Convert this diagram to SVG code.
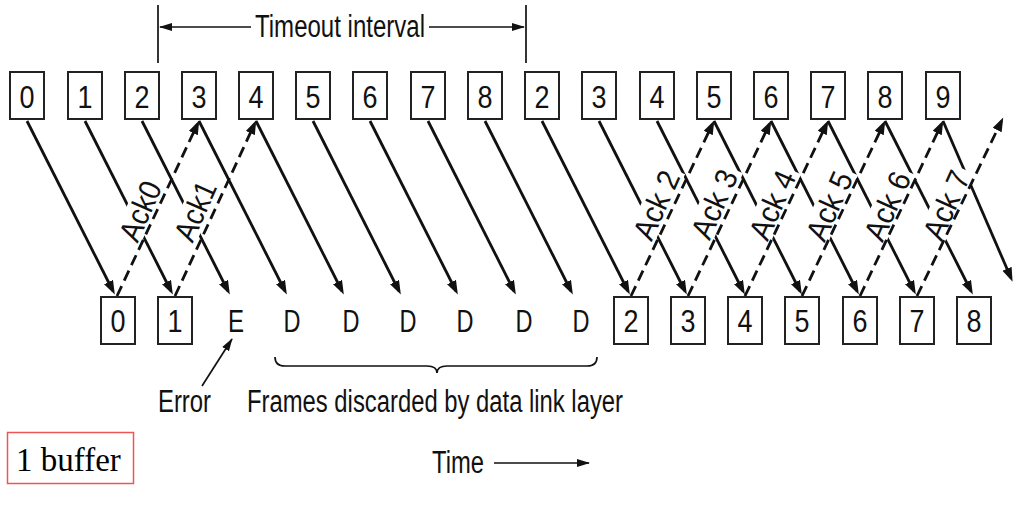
<svg xmlns="http://www.w3.org/2000/svg" width="1023" height="515" viewBox="0 0 1023 515">
<style>
.bx{fill:#fff;stroke:#222;stroke-width:2}
.t{font-family:"Liberation Sans",Arial,sans-serif;font-size:32px;fill:#111;text-anchor:middle}
.lb{font-family:"Liberation Sans",Arial,sans-serif;font-size:31px;fill:#111;text-anchor:middle}
.tx{font-family:"Liberation Sans",Arial,sans-serif;font-size:31px;fill:#111}
.f{stroke:#111;stroke-width:2.8;fill:none;marker-end:url(#ah)}
.a{stroke:#111;stroke-width:2.8;fill:none;stroke-dasharray:11 6;marker-end:url(#ah)}
.thin{stroke:#111;stroke-width:1.7;fill:none}
.bg{fill:#fff}
</style>
<defs>
<marker id="ah" markerUnits="userSpaceOnUse" markerWidth="15" markerHeight="11" refX="10" refY="5" orient="auto">
<path d="M0,0 L14,5 L0,10 z" fill="#111"/>
</marker>
<marker id="sh" markerUnits="userSpaceOnUse" markerWidth="14" markerHeight="9" refX="12" refY="4" orient="auto">
<path d="M0,0 L13,4 L0,8 z" fill="#111"/>
</marker>
</defs>
<rect width="1023" height="515" fill="#fff"/>

<!-- timeout interval -->
<g id="timeout">
<line class="thin" x1="158" y1="5" x2="158" y2="63"/>
<line class="thin" x1="526" y1="5" x2="526" y2="63"/>
<line class="thin" x1="251" y1="27" x2="160" y2="27" marker-end="url(#sh)"/>
<line class="thin" x1="429" y1="27" x2="524" y2="27" marker-end="url(#sh)"/>
<text class="tx" x="255" y="37" font-size="32" textLength="170" lengthAdjust="spacingAndGlyphs">Timeout interval</text>
</g>

<!-- connectors -->
<g id="connectors">
<g id="frames">
<line class="f" x1="27" y1="121" x2="113" y2="291"/>
<line class="f" x1="85" y1="121" x2="171" y2="291"/>
<line class="f" x1="142" y1="121" x2="228" y2="291"/>
<line class="f" x1="199" y1="121" x2="285" y2="291"/>
<line class="f" x1="256" y1="121" x2="342" y2="291"/>
<line class="f" x1="313" y1="121" x2="399" y2="291"/>
<line class="f" x1="370" y1="121" x2="456" y2="291"/>
<line class="f" x1="428" y1="121" x2="514" y2="291"/>
<line class="f" x1="485" y1="121" x2="571" y2="291"/>
<line class="f" x1="542" y1="121" x2="628" y2="291"/>
<line class="f" x1="599" y1="121" x2="685" y2="291"/>
<line class="f" x1="657" y1="121" x2="743" y2="291"/>
<line class="f" x1="714" y1="121" x2="800" y2="291"/>
<line class="f" x1="771" y1="121" x2="857" y2="291"/>
<line class="f" x1="828" y1="121" x2="914" y2="291"/>
<line class="f" x1="885" y1="121" x2="971" y2="291"/>
<line class="f" x1="943" y1="121" x2="1011" y2="278"/>
</g>
<g id="label-bg" class="bg">
<rect x="-34" y="-14" width="68" height="28" transform="translate(140,211) rotate(-66)"/>
<rect x="-34" y="-14" width="68" height="28" transform="translate(195,211) rotate(-66)"/>
<rect x="-40" y="-14" width="80" height="28" transform="translate(656,205) rotate(-66)"/>
<rect x="-40" y="-14" width="80" height="28" transform="translate(714,204) rotate(-66)"/>
<rect x="-40" y="-14" width="80" height="28" transform="translate(772,205) rotate(-66)"/>
<rect x="-40" y="-14" width="80" height="28" transform="translate(829,206) rotate(-66)"/>
<rect x="-40" y="-14" width="80" height="28" transform="translate(887,206) rotate(-66)"/>
<rect x="-40" y="-14" width="80" height="28" transform="translate(946,205) rotate(-66)"/>
</g>
<g id="acks">
<line class="a" x1="117" y1="296" x2="197.5" y2="124"/>
<line class="a" x1="175" y1="296" x2="254.5" y2="124"/>
<line class="a" x1="631" y1="296" x2="712.5" y2="124"/>
<line class="a" x1="688" y1="296" x2="769.5" y2="124"/>
<line class="a" x1="745" y1="296" x2="826.5" y2="124"/>
<line class="a" x1="802" y1="296" x2="883.5" y2="124"/>
<line class="a" x1="860" y1="296" x2="941.5" y2="124"/>
<line class="a" x1="917" y1="296" x2="1001.5" y2="121"/>
</g>
<g id="ack-labels">
<text class="lb" y="11" textLength="62" lengthAdjust="spacingAndGlyphs" transform="translate(140,211) rotate(-66)">Ack0</text>
<text class="lb" y="11" textLength="62" lengthAdjust="spacingAndGlyphs" transform="translate(195,211) rotate(-66)">Ack1</text>
<text class="lb" y="11" textLength="72" lengthAdjust="spacingAndGlyphs" transform="translate(656,205) rotate(-66)">Ack 2</text>
<text class="lb" y="11" textLength="72" lengthAdjust="spacingAndGlyphs" transform="translate(714,204) rotate(-66)">Ack 3</text>
<text class="lb" y="11" textLength="72" lengthAdjust="spacingAndGlyphs" transform="translate(772,205) rotate(-66)">Ack 4</text>
<text class="lb" y="11" textLength="72" lengthAdjust="spacingAndGlyphs" transform="translate(829,206) rotate(-66)">Ack 5</text>
<text class="lb" y="11" textLength="72" lengthAdjust="spacingAndGlyphs" transform="translate(887,206) rotate(-66)">Ack 6</text>
<text class="lb" y="11" textLength="72" lengthAdjust="spacingAndGlyphs" transform="translate(946,205) rotate(-66)">Ack 7</text>
</g>
</g>

<!-- sender frames (top) -->
<g id="s0"><rect class="bx" x="10" y="72" width="34" height="47"/><text class="t" x="27" y="108" textLength="15" lengthAdjust="spacingAndGlyphs">0</text></g>
<g id="s1"><rect class="bx" x="68" y="72" width="34" height="47"/><text class="t" x="85" y="108" textLength="15" lengthAdjust="spacingAndGlyphs">1</text></g>
<g id="s2"><rect class="bx" x="125" y="72" width="34" height="47"/><text class="t" x="142" y="108" textLength="15" lengthAdjust="spacingAndGlyphs">2</text></g>
<g id="s3"><rect class="bx" x="182" y="72" width="34" height="47"/><text class="t" x="199" y="108" textLength="15" lengthAdjust="spacingAndGlyphs">3</text></g>
<g id="s4"><rect class="bx" x="239" y="72" width="34" height="47"/><text class="t" x="256" y="108" textLength="15" lengthAdjust="spacingAndGlyphs">4</text></g>
<g id="s5"><rect class="bx" x="296" y="72" width="34" height="47"/><text class="t" x="313" y="108" textLength="15" lengthAdjust="spacingAndGlyphs">5</text></g>
<g id="s6"><rect class="bx" x="353" y="72" width="34" height="47"/><text class="t" x="370" y="108" textLength="15" lengthAdjust="spacingAndGlyphs">6</text></g>
<g id="s7"><rect class="bx" x="411" y="72" width="34" height="47"/><text class="t" x="428" y="108" textLength="15" lengthAdjust="spacingAndGlyphs">7</text></g>
<g id="s8"><rect class="bx" x="468" y="72" width="34" height="47"/><text class="t" x="485" y="108" textLength="15" lengthAdjust="spacingAndGlyphs">8</text></g>
<g id="s9"><rect class="bx" x="525" y="72" width="34" height="47"/><text class="t" x="542" y="108" textLength="15" lengthAdjust="spacingAndGlyphs">2</text></g>
<g id="s10"><rect class="bx" x="582" y="72" width="34" height="47"/><text class="t" x="599" y="108" textLength="15" lengthAdjust="spacingAndGlyphs">3</text></g>
<g id="s11"><rect class="bx" x="640" y="72" width="34" height="47"/><text class="t" x="657" y="108" textLength="15" lengthAdjust="spacingAndGlyphs">4</text></g>
<g id="s12"><rect class="bx" x="697" y="72" width="34" height="47"/><text class="t" x="714" y="108" textLength="15" lengthAdjust="spacingAndGlyphs">5</text></g>
<g id="s13"><rect class="bx" x="754" y="72" width="34" height="47"/><text class="t" x="771" y="108" textLength="15" lengthAdjust="spacingAndGlyphs">6</text></g>
<g id="s14"><rect class="bx" x="811" y="72" width="34" height="47"/><text class="t" x="828" y="108" textLength="15" lengthAdjust="spacingAndGlyphs">7</text></g>
<g id="s15"><rect class="bx" x="868" y="72" width="34" height="47"/><text class="t" x="885" y="108" textLength="15" lengthAdjust="spacingAndGlyphs">8</text></g>
<g id="s16"><rect class="bx" x="926" y="72" width="34" height="47"/><text class="t" x="943" y="108" textLength="15" lengthAdjust="spacingAndGlyphs">9</text></g>

<!-- receiver (bottom) -->
<g id="r0"><rect class="bx" x="101" y="297" width="34" height="47"/><text class="t" x="118" y="332" textLength="15" lengthAdjust="spacingAndGlyphs">0</text></g>
<g id="r1"><rect class="bx" x="158" y="297" width="34" height="47"/><text class="t" x="175" y="332" textLength="15" lengthAdjust="spacingAndGlyphs">1</text></g>
<g id="rE"><text class="t" x="236" y="332" textLength="16" lengthAdjust="spacingAndGlyphs">E</text></g>
<g id="rD1"><text class="t" x="292" y="332" textLength="17" lengthAdjust="spacingAndGlyphs">D</text></g>
<g id="rD2"><text class="t" x="351" y="332" textLength="17" lengthAdjust="spacingAndGlyphs">D</text></g>
<g id="rD3"><text class="t" x="408" y="332" textLength="17" lengthAdjust="spacingAndGlyphs">D</text></g>
<g id="rD4"><text class="t" x="465" y="332" textLength="17" lengthAdjust="spacingAndGlyphs">D</text></g>
<g id="rD5"><text class="t" x="524" y="332" textLength="17" lengthAdjust="spacingAndGlyphs">D</text></g>
<g id="rD6"><text class="t" x="581" y="332" textLength="17" lengthAdjust="spacingAndGlyphs">D</text></g>
<g id="r2"><rect class="bx" x="614" y="297" width="34" height="47"/><text class="t" x="631" y="332" textLength="15" lengthAdjust="spacingAndGlyphs">2</text></g>
<g id="r3"><rect class="bx" x="671" y="297" width="34" height="47"/><text class="t" x="688" y="332" textLength="15" lengthAdjust="spacingAndGlyphs">3</text></g>
<g id="r4"><rect class="bx" x="728" y="297" width="34" height="47"/><text class="t" x="745" y="332" textLength="15" lengthAdjust="spacingAndGlyphs">4</text></g>
<g id="r5"><rect class="bx" x="785" y="297" width="34" height="47"/><text class="t" x="802" y="332" textLength="15" lengthAdjust="spacingAndGlyphs">5</text></g>
<g id="r6"><rect class="bx" x="843" y="297" width="34" height="47"/><text class="t" x="860" y="332" textLength="15" lengthAdjust="spacingAndGlyphs">6</text></g>
<g id="r7"><rect class="bx" x="900" y="297" width="34" height="47"/><text class="t" x="917" y="332" textLength="15" lengthAdjust="spacingAndGlyphs">7</text></g>
<g id="r8"><rect class="bx" x="957" y="297" width="34" height="47"/><text class="t" x="974" y="332" textLength="15" lengthAdjust="spacingAndGlyphs">8</text></g>

<!-- annotations -->
<g id="error">
<line class="thin" x1="202" y1="386" x2="232" y2="339" marker-end="url(#sh)"/>
<text class="tx" x="158" y="412" textLength="53" lengthAdjust="spacingAndGlyphs">Error</text>
</g>
<g id="discarded">
<path class="thin" d="M275,357 Q275,366 285,366 L427,366 Q437,366 437,373 Q437,366 447,366 L587,366 Q597,366 597,357"/>
<text class="tx" x="247" y="412" textLength="376" lengthAdjust="spacingAndGlyphs">Frames discarded by data link layer</text>
</g>
<g id="time">
<text class="tx" x="432" y="473" textLength="52" lengthAdjust="spacingAndGlyphs">Time</text>
<line class="thin" x1="494" y1="463" x2="589" y2="463" marker-end="url(#sh)"/>
</g>
<g id="buffer">
<rect x="7.5" y="432.5" width="126" height="51" fill="#fff" stroke="#ee5555" stroke-width="1.5"/>
<text x="16" y="471" font-family="'Liberation Serif','Times New Roman',serif" font-size="33" fill="#000">1 buffer</text>
</g>
</svg>
